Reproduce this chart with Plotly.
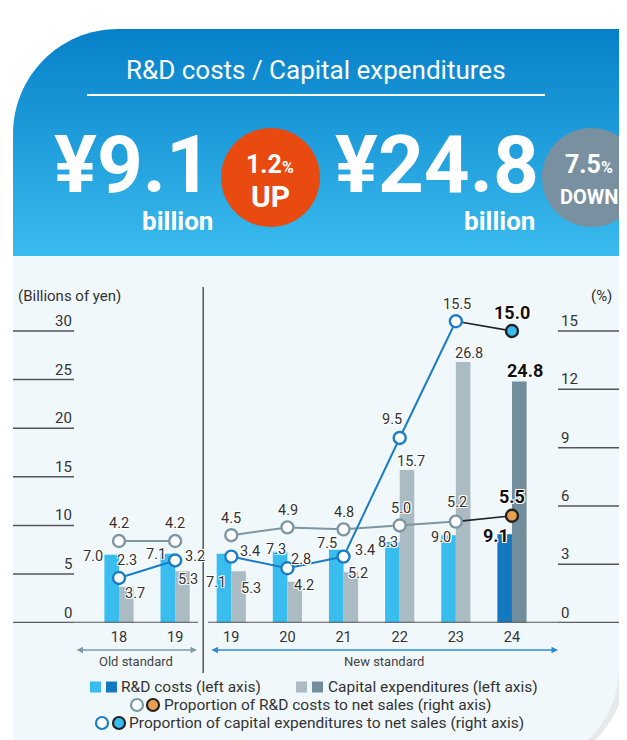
import base64
import plotly.graph_objects as go

# ---------------- data ----------------
years = ["18", "19", "19", "20", "21", "22", "23", "24"]
rd_costs = [7.0, 7.1, 7.1, 7.3, 7.5, 8.3, 9.0, 9.1]          # billions of yen (left axis)
capex = [3.7, 5.3, 5.3, 4.2, 5.2, 15.7, 26.8, 24.8]          # billions of yen (left axis)
rd_ratio = [4.2, 4.2, 4.5, 4.9, 4.8, 5.0, 5.2, 5.5]          # % of net sales (right axis)
capex_ratio = [2.3, 3.2, 3.4, 2.8, 3.4, 9.5, 15.5, 15.0]     # % of net sales (right axis)
left_ticks = [0, 5, 10, 15, 20, 25, 30]
right_ticks = [0, 3, 6, 9, 12, 15]
n_old = 2  # first two points use the old standard
rd_change = "1.2%"
rd_dir = "UP"
capex_change = "7.5%"
capex_dir = "DOWN"

# ---------------- style ----------------
PAGE_OFF = 8            # browser default body margin
W, H = 627 - PAGE_OFF, 740 - PAGE_OFF
FONT = "Roboto"
TXT = "#333333"
RD_LIGHT, RD_DARK = "#38BDEE", "#1378BF"
CX_LIGHT, CX_DARK = "#AABBC4", "#728E9C"
GREY_LINE = "#7D96A3"
BLUE_LINE = "#1B7DC6"
ORANGE = "#E9A04E"
BLACK = "#222222"
PANEL = "#F1F8FC"

def px(x):   # page pixel -> paper
    return (x - PAGE_OFF) / W

def py(y):
    return 1 - (y - PAGE_OFF) / H

# page-pixel geometry of the plot area
X_FIRST, STEP = 119.0, 56.14
X_L, X_R = 13.0, 619.0
Y_ZERO, Y_TOP = 622.7, 287.0
PX_PER_UNIT = (Y_ZERO - 331.0) / 30.0
x_range = [(X_L - X_FIRST) / STEP, (X_R - X_FIRST) / STEP]
y_max = (Y_ZERO - Y_TOP) / PX_PER_UNIT

xi = list(range(len(years)))
last = len(years) - 1

fig = go.Figure()

rd_colors = [RD_LIGHT] * last + [RD_DARK]
cx_colors = [CX_LIGHT] * last + [CX_DARK]
fig.add_trace(go.Bar(x=xi, y=rd_costs, marker_color=rd_colors, marker_line_width=0,
                     hoverinfo="skip", name="R&D costs"))
fig.add_trace(go.Bar(x=xi, y=capex, marker_color=cx_colors, marker_line_width=0,
                     hoverinfo="skip", name="Capital expenditures"))

def ratio_traces(vals, color, latest_fill):
    fig.add_trace(go.Scatter(x=xi[:n_old], y=vals[:n_old], yaxis="y2", mode="lines",
                             line=dict(color=color, width=2), hoverinfo="skip"))
    fig.add_trace(go.Scatter(x=xi[last - 1:], y=vals[last - 1:], yaxis="y2", mode="lines",
                             line=dict(color=BLACK, width=1.6), hoverinfo="skip"))
    fig.add_trace(go.Scatter(x=xi[n_old:last], y=vals[n_old:last], yaxis="y2", mode="lines",
                             line=dict(color=color, width=2), hoverinfo="skip"))
    fig.add_trace(go.Scatter(x=xi, y=vals, yaxis="y2", mode="markers",
                             marker=dict(size=12, color=["white"] * last + [latest_fill],
                                         line=dict(width=2.4, color=[color] * last + [BLACK])),
                             hoverinfo="skip"))

ratio_traces(rd_ratio, GREY_LINE, ORANGE)
ratio_traces(capex_ratio, BLUE_LINE, RD_LIGHT)

shapes = []
ann = []

# ---- value labels (offsets in pixels: dx right, dy down) ----
rd_off = [(-19, 2), (-12, 1), (-8, 29), (-4, -2), (-9, -6), (-4, 0), (-8, 2), (-9, 1)]
cx_off = [(9, 7), (6, 8), (12.5, 17), (9, 4), (7, 1), (4, -9), (6, -9), (6, -11)]
rdr_off = [(0, -18), (0, -18), (0, -17), (1, -17), (0, -17), (1, -17), (1, -19), (0, -19)]
cxr_off = [(8, -17), (20, -4), (19, -5), (14, -9), (21, -6), (-8, -18), (1, -17), (0, -18)]
BAR_HALF = 7.3
HALO = "1px 1px 0 white, -1px -1px 0 white, 1px -1px 0 white, -1px 1px 0 white"

def add_labels(vals, offs, yref, base_dx):
    for i, v in enumerate(vals):
        dx, dy = offs[i]
        bold = i == last
        ann.append(dict(x=i, y=v, xref="x", yref=yref, text=f"{v:.1f}", showarrow=False,
                        xshift=base_dx + dx, yshift=-dy, xanchor="center", yanchor="middle",
                        font=dict(family=FONT, size=18 if bold else 14.5,
                                  color="#111111" if bold else TXT,
                                  weight="bold" if bold else "normal", shadow=HALO)))

add_labels(rd_costs, rd_off, "y", -BAR_HALF)
add_labels(capex, cx_off, "y", BAR_HALF)
add_labels(rd_ratio, rdr_off, "y2", 0)
add_labels(capex_ratio, cxr_off, "y2", 0)

# ---- custom axis ticks (short lines with labels above) ----
for t in left_ticks:
    shapes.append(dict(type="line", xref="paper", yref="y", x0=px(13), x1=px(74), y0=t, y1=t,
                       line=dict(color="#555555", width=1.5), layer="below"))
    ann.append(dict(x=px(74), y=t, xref="paper", yref="y", text=str(t), showarrow=False,
                    xanchor="right", yanchor="middle", yshift=10,
                    font=dict(family=FONT, size=15, color=TXT)))
for t in right_ticks:
    shapes.append(dict(type="line", xref="paper", yref="y2", x0=px(558), x1=px(619), y0=t, y1=t,
                       line=dict(color="#555555", width=1.5), layer="below"))
    ann.append(dict(x=px(559), y=t, xref="paper", yref="y2", text=str(t), showarrow=False,
                    xanchor="left", yanchor="middle", yshift=10,
                    font=dict(family=FONT, size=15, color=TXT)))

ann.append(dict(x=px(16), y=py(296), xref="paper", yref="paper", text="(Billions of yen)",
                showarrow=False, xanchor="left", yanchor="middle",
                font=dict(family=FONT, size=15, color=TXT)))
ann.append(dict(x=px(614), y=py(296), xref="paper", yref="paper", text="(%)",
                showarrow=False, xanchor="right", yanchor="middle",
                font=dict(family=FONT, size=15, color=TXT)))

# baseline with gap at the divider
div_x = (n_old - 1 + n_old) / 2
shapes.append(dict(type="line", xref="paper", yref="y", x0=px(13), x1=px(198), y0=0, y1=0,
                   line=dict(color="#555555", width=2)))
shapes.append(dict(type="line", xref="paper", yref="y", x0=px(208), x1=px(619), y0=0, y1=0,
                   line=dict(color="#555555", width=2)))
shapes.append(dict(type="line", xref="x", yref="paper", x0=div_x, x1=div_x, y0=py(673), y1=py(287),
                   line=dict(color="#555555", width=1.5)))

# standard arrows
for x0, x1, col, label in [(75, 197, "#7E9BAA", "Old standard"), (210, 558, "#2A8BD4", "New standard")]:
    ann.append(dict(x=px(x1), y=py(650), xref="paper", yref="paper", ax=-(x1 - x0), ay=0,
                    text="", showarrow=True, arrowhead=2, startarrowhead=2, arrowside="end+start",
                    arrowsize=1, arrowwidth=1.3, arrowcolor=col))
    ann.append(dict(x=px((x0 + x1) / 2), y=py(661), xref="paper", yref="paper", text=label,
                    showarrow=False, xanchor="center", yanchor="middle",
                    font=dict(family=FONT, size=13, color="#444444")))

# ---- custom legend ----
def sq(x0, yc, col):
    shapes.append(dict(type="rect", xref="paper", yref="paper", x0=px(x0), x1=px(x0 + 11),
                       y0=py(yc + 5.5), y1=py(yc - 5.5), fillcolor=col, line=dict(width=0)))

def circ(xc, yc, fill, edge):
    r = 6
    shapes.append(dict(type="circle", xref="paper", yref="paper", x0=px(xc - r), x1=px(xc + r),
                       y0=py(yc + r), y1=py(yc - r), fillcolor=fill, line=dict(color=edge, width=2.2)))

def ltext(x, yc, t):
    ann.append(dict(x=px(x), y=py(yc), xref="paper", yref="paper", text=t, showarrow=False,
                    xanchor="left", yanchor="middle", font=dict(family=FONT, size=15.5, color=TXT)))

sq(90, 687, RD_LIGHT); sq(106, 687, RD_DARK); ltext(119, 687, "R&D costs (left axis)")
sq(296, 687, CX_LIGHT); sq(312, 687, CX_DARK); ltext(326, 687, "Capital expenditures (left axis)")
circ(137, 705, "white", GREY_LINE); circ(153, 705, ORANGE, BLACK)
ltext(162, 705, "Proportion of R&D costs to net sales (right axis)")
circ(102, 723, "white", BLUE_LINE); circ(119, 723, RD_LIGHT, BLACK)
ltext(127, 723, "Proportion of capital expenditures to net sales (right axis)")

# ---- header ----
shapes.append(dict(type="line", xref="paper", yref="paper", x0=px(87), x1=px(545), y0=py(95), y1=py(95),
                   line=dict(color="white", width=2)))
shapes.append(dict(type="circle", xref="paper", yref="paper", x0=px(221), x1=px(320),
                   y0=py(227), y1=py(128), fillcolor="#E84A10", line=dict(width=0)))
shapes.append(dict(type="circle", xref="paper", yref="paper", x0=px(542), x1=px(641),
                   y0=py(227), y1=py(128), fillcolor="#7890A0", line=dict(width=0)))

def htext(x, y, t, size, bold=True):
    ann.append(dict(x=px(x), y=py(y), xref="paper", yref="paper", text=t, showarrow=False,
                    xanchor="center", yanchor="middle",
                    font=dict(family=FONT, size=size, color="white",
                              weight="bold" if bold else "normal")))

htext(316, 70, "R&D costs / Capital expenditures", 26, bold=False)
htext(133, 165, f"¥{rd_costs[-1]:.1f}", 80)
htext(178, 221, "billion", 26)
htext(270, 164, rd_change[:-1] + "<span style='font-size:16px'>%</span>", 25)
htext(270, 196, rd_dir, 30)
htext(437, 165, f"¥{capex[-1]:.1f}", 80)
htext(499, 221, "billion", 26)
htext(589, 164, capex_change[:-1] + "<span style='font-size:16px'>%</span>", 25)
htext(589, 197, capex_dir, 20)

# ---- background card images (gradient header + light panel) ----
card_svg = ("<svg xmlns='http://www.w3.org/2000/svg' width='606' height='227' viewBox='0 0 606 227'>"
            "<defs><linearGradient id='g' x1='0' y1='0' x2='0' y2='1'>"
            "<stop offset='0' stop-color='#0680C9'/><stop offset='1' stop-color='#3ABBEE'/>"
            "</linearGradient></defs>"
            "<path d='M0,227 V105 C0,47 47,0 105,0 H606 V227 Z' fill='url(#g)'/></svg>")
panel_svg = ("<svg xmlns='http://www.w3.org/2000/svg' width='614' height='484' viewBox='0 0 614 484'>"
             "<path d='M7,0 H613 V411 C613,467 568,512 512,512 H7 Z' fill='#E6EAED'/>"
             "<path d='M0,0 H606 V411 C606,467 561,512 505,512 H0 Z' fill='" + PANEL + "'/></svg>")

def uri(s):
    return "data:image/svg+xml;base64," + base64.b64encode(s.encode()).decode()

images = [
    dict(source=uri(card_svg), xref="paper", yref="paper", x=px(13), y=py(29), sizex=606 / W,
         sizey=227 / H, xanchor="left", yanchor="top", sizing="stretch", layer="below"),
    dict(source=uri(panel_svg), xref="paper", yref="paper", x=px(13), y=py(256), sizex=614 / W,
         sizey=484 / H, xanchor="left", yanchor="top", sizing="stretch", layer="below"),
]

fig.update_layout(
    width=W, height=H, autosize=False,
    margin=dict(l=0, r=0, t=0, b=0),
    paper_bgcolor="white", plot_bgcolor="rgba(0,0,0,0)",
    barmode="group", bargap=0.48, bargroupgap=0,
    showlegend=False,
    font=dict(family=FONT, color=TXT),
    xaxis=dict(domain=[px(X_L), px(X_R)], range=x_range, tickmode="array", tickvals=xi,
               ticktext=years, showgrid=False, zeroline=False, showline=False, ticks="",
               ticklabelstandoff=4,
               tickfont=dict(family=FONT, size=14.5, color=TXT), fixedrange=True),
    yaxis=dict(domain=[py(Y_ZERO), py(Y_TOP)], range=[0, y_max], visible=False, fixedrange=True),
    yaxis2=dict(domain=[py(Y_ZERO), py(Y_TOP)], range=[0, y_max / 2], overlaying="y",
                visible=False, fixedrange=True),
    shapes=shapes, annotations=ann, images=images,
)

fig.write_html("out.html")
